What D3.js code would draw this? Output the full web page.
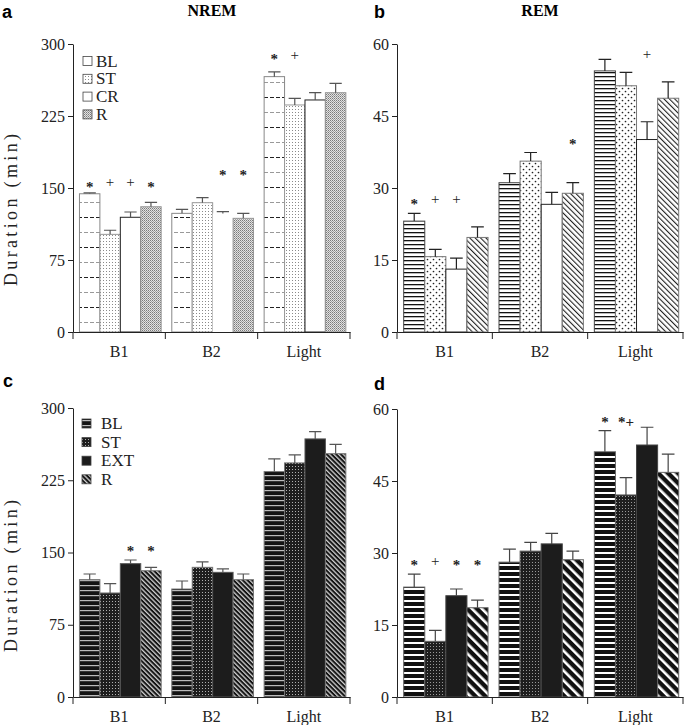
<!DOCTYPE html>
<html>
<head>
<meta charset="utf-8">
<script src="https://cdn.jsdelivr.net/npm/d3@7/dist/d3.min.js"></script>
<style>
  body { margin: 0; background: #fff; }
  svg { display: block; }
  text { font-family: "Liberation Serif", "Times New Roman", serif; }
  text.sans { font-family: "Liberation Sans", Arial, sans-serif; }
</style>
</head>
<body>
<svg id="chart" width="685" height="725"></svg>
<script>
const categories = ["B1", "B2", "Light"];
const groupsTop = ["BL", "ST", "CR", "R"];
const groupsBottom = ["BL", "ST", "EXT", "R"];
const yTicksNrem = [0, 75, 150, 225, 300];
const yTicksRem = [0, 15, 30, 45, 60];

// rows = categories, columns = groups
const nremTop = [[144, 101.7, 119.5, 130.5], [123.6, 134.7, 123.5, 118.4], [266, 236.5, 241.7, 249.3]];
const nremTopErr = [[1, 4.3, 5.5, 4.5], [4.2, 5.2, 1.8, 5.2], [5, 6.9, 7.6, 9.7]];
const remTop = [[23.1, 15.7, 13.1, 19.7], [31.1, 35.6, 26.6, 28.9], [54.4, 51.3, 40.1, 48.7]];
const remTopErr = [[1.6, 1.5, 2.3, 2.2], [1.9, 1.8, 2.5, 2.2], [2.4, 2.8, 3.7, 3.4]];
const nremBottom = [[121.8, 108, 138.4, 131.1], [112.1, 134.6, 129.4, 121.8], [234, 243, 267.9, 252.6]];
const nremBottomErr = [[5.9, 9.6, 3.8, 3.5], [8.3, 5.6, 3.5, 5.9], [13.1, 8.3, 7.6, 9.7]];
const remBottom = [[22.9, 11.6, 21.1, 18.6], [28.1, 30.4, 31.9, 28.6], [51.1, 42.1, 52.5, 46.8]];
const remBottomErr = [[2.7, 2.3, 1.4, 1.6], [2.7, 1.8, 2.2, 1.8], [4.4, 3.6, 3.7, 3.8]];

// significance marks: [category, group, symbol, height in data units]
const marksA = [["B1", "BL", "*", 155], ["B1", "ST", "+", 155], ["B1", "CR", "+", 155], ["B1", "R", "*", 155],
                ["B2", "CR", "*", 167], ["B2", "R", "*", 167], ["Light", "BL", "*", 288], ["Light", "ST", "+", 288]];
const marksB = [["B1", "BL", "*", 27.5], ["B1", "ST", "+", 27.5], ["B1", "CR", "+", 27.5],
                ["B2", "R", "*", 40], ["Light", "CR", "+", 57.7]];
const marksC = [["B1", "EXT", "*", 155], ["B1", "R", "*", 155]];
const marksD = [["B1", "BL", "*", 28.2], ["B1", "ST", "+", 28.2], ["B1", "EXT", "*", 28.2], ["B1", "R", "*", 28.2],
                ["Light", "BL", "*", 58.1], ["Light", "ST", "*+", 58.1]];

// bars whose outline does not show in the original
const noOutlineA = [["B2", "CR"]];

const serif = "'Liberation Serif', 'Times New Roman', serif";
const svg = d3.select("#chart");
const defs = svg.append("defs");

// --- fill patterns ---
const makePattern = (id, w, h, bg, transform) => {
  const p = defs.append("pattern")
    .attr("id", id)
    .attr("patternUnits", "userSpaceOnUse")
    .attr("width", w).attr("height", h);
  if (transform) p.attr("patternTransform", transform);
  p.append("rect").attr("width", w).attr("height", h).attr("fill", bg);
  return p;
};
const dots = (p, pts, fill, size) => pts.forEach(([x, y]) =>
  p.append("rect").attr("x", x).attr("y", y).attr("width", size).attr("height", size).attr("fill", fill));
const stripes = (id, period, lineW, fg, bg) => {
  const p = makePattern(id, period, period, bg, "rotate(-45)");
  p.append("rect").attr("width", lineW).attr("height", period).attr("fill", fg);
};

let p = makePattern("aBL", 6, 30, "#fff");
p.append("rect").attr("y", 7).attr("width", 4).attr("height", 1).attr("fill", "#222");
p.append("rect").attr("y", 22).attr("width", 4).attr("height", 1).attr("fill", "#999");
p = makePattern("aST", 3, 3, "#fff");
dots(p, [[1, 1]], "#8a8a8a", 1);
p = makePattern("aR", 2, 2, "#e2e2e2");
dots(p, [[0, 0]], "#7a7a7a", 1);
dots(p, [[1, 1]], "#a0a0a0", 1);

p = makePattern("bBL", 4, 4, "#fff");
p.append("rect").attr("width", 4).attr("height", 1.3).attr("fill", "#111");
p = makePattern("bST", 6, 6, "#fff");
p.append("circle").attr("cx", 1.5).attr("cy", 1.5).attr("r", 0.85).attr("fill", "#222");
p.append("circle").attr("cx", 4.5).attr("cy", 4.5).attr("r", 0.85).attr("fill", "#222");
stripes("bR", 3.8, 1.1, "#222", "#fff");

p = makePattern("cBL", 5, 5, "#141414");
p.append("rect").attr("width", 5).attr("height", 1.2).attr("fill", "#bbb");
p = makePattern("cST", 3, 3, "#1e1e1e");
dots(p, [[1, 1]], "#b0b0b0", 1);
stripes("cR", 3.3, 1.3, "#d0d0d0", "#141414");

p = makePattern("dBL", 6, 6, "#111");
p.append("rect").attr("width", 6).attr("height", 2).attr("fill", "#fff");
p = makePattern("dST", 3, 3, "#1e1e1e");
dots(p, [[1, 1]], "#999", 1);
stripes("dR", 7, 2.6, "#fff", "#111");

const panels = [
  { letter: "a", letterX: 2, letterY: 18, title: "NREM", titleX: 212, titleY: 16,
    groups: groupsTop, means: nremTop, errs: nremTopErr, marks: marksA, noOutline: noOutlineA,
    ymax: 300, ticks: yTicksNrem, left: 73, right: 350, top: 44, bottom: 332,
    fills: ["url(#aBL)", "url(#aST)", "#fff", "url(#aR)"],
    strokes: ["#888", "#999", "#222", "#999"], errColor: "#555",
    yTitle: { x: 17, y: 210 }, legend: { x: 83, y: 61, dy: 17.8, tx: 96 } },
  { letter: "b", letterX: 374, letterY: 18, title: "REM", titleX: 540, titleY: 16,
    groups: groupsTop, means: remTop, errs: remTopErr, marks: marksB, noOutline: [],
    ymax: 60, ticks: yTicksRem, left: 397, right: 683, top: 44, bottom: 332,
    fills: ["url(#bBL)", "url(#bST)", "#fff", "url(#bR)"],
    strokes: ["#444", "#777", "#222", "#777"], errColor: "#222" },
  { letter: "c", letterX: 3, letterY: 387,
    groups: groupsBottom, means: nremBottom, errs: nremBottomErr, marks: marksC, noOutline: [],
    ymax: 300, ticks: yTicksNrem, left: 73, right: 350, top: 408, bottom: 697,
    fills: ["url(#cBL)", "url(#cST)", "#1c1c1c", "url(#cR)"],
    strokes: ["#777", "#777", "#555", "#777"], errColor: "#555",
    yTitle: { x: 17, y: 576 }, legend: { x: 82, y: 423.5, dy: 18.6, tx: 101 } },
  { letter: "d", letterX: 374, letterY: 390,
    groups: groupsBottom, means: remBottom, errs: remBottomErr, marks: marksD, noOutline: [],
    ymax: 60, ticks: yTicksRem, left: 397, right: 683, top: 409, bottom: 697,
    fills: ["url(#dBL)", "url(#dST)", "#1c1c1c", "url(#dR)"],
    strokes: ["#666", "#666", "#444", "#666"], errColor: "#444" }
];

panels.forEach(cfg => {
  const g = svg.append("g");

  const x0 = d3.scaleBand().domain(categories).range([cfg.left, cfg.right]);
  const bw = x0.bandwidth();
  const x1 = d3.scaleBand().domain(cfg.groups).range([bw * 0.07, bw * 0.955]);
  const y = d3.scaleLinear().domain([0, cfg.ymax]).range([cfg.bottom, cfg.top]);

  // bars
  categories.forEach((cat, ci) => {
    cfg.groups.forEach((grp, gi) => {
      const hide = cfg.noOutline.some(([c, s]) => c === cat && s === grp);
      g.append("rect")
        .attr("x", x0(cat) + x1(grp))
        .attr("y", y(cfg.means[ci][gi]))
        .attr("width", x1.bandwidth())
        .attr("height", y(0) - y(cfg.means[ci][gi]))
        .attr("fill", cfg.fills[gi])
        .attr("stroke", hide ? "none" : cfg.strokes[gi])
        .attr("stroke-width", 1);
    });
  });

  // error bars (upper whisker only)
  categories.forEach((cat, ci) => {
    cfg.groups.forEach((grp, gi) => {
      const cx = x0(cat) + x1(grp) + x1.bandwidth() / 2;
      const top = y(cfg.means[ci][gi] + cfg.errs[ci][gi]);
      const capW = x1.bandwidth() * 0.3;
      g.append("path")
        .attr("d", `M${cx},${y(cfg.means[ci][gi])}V${top}M${cx - capW},${top}H${cx + capW}`)
        .attr("fill", "none")
        .attr("stroke", cfg.errColor)
        .attr("stroke-width", 1.2);
    });
  });

  // significance marks
  cfg.marks.forEach(([cat, grp, sym, v]) => {
    const cx = x0(cat) + x1(grp) + x1.bandwidth() / 2;
    g.append("text")
      .attr("x", cx)
      .attr("y", y(v) + (sym.includes("*") ? 8.5 : 4))
      .attr("text-anchor", "middle")
      .attr("font-size", 15)
      .attr("font-weight", sym.includes("*") ? "bold" : "normal")
      .attr("fill", "#222")
      .style("font-family", serif)
      .text(sym);
  });

  // y axis
  const yAxis = g.append("g")
    .attr("transform", `translate(${cfg.left},0)`)
    .call(d3.axisLeft(y).tickValues(cfg.ticks).tickSize(5).tickSizeOuter(0).tickPadding(3));
  yAxis.selectAll("text").attr("font-size", 16).style("font-family", serif).attr("fill", "#222");
  yAxis.select(".domain").attr("stroke", "#222");
  yAxis.selectAll(".tick line").attr("stroke", "#222");

  // x axis: category labels at centres, ticks at band edges
  const xAxis = g.append("g")
    .attr("transform", `translate(0,${cfg.bottom})`)
    .call(d3.axisBottom(x0).tickSize(0).tickPadding(14));
  xAxis.select(".domain").attr("stroke", "#222");
  xAxis.selectAll("text").attr("font-size", 16).style("font-family", serif).attr("fill", "#222");
  const edges = [cfg.left, ...categories.map(c => x0(c) + bw)];
  xAxis.selectAll(".edge")
    .data(edges)
    .join("line")
    .attr("class", "edge")
    .attr("x1", d => d).attr("x2", d => d)
    .attr("y1", 0).attr("y2", 7)
    .attr("stroke", "#222");

  // panel letter and title
  svg.append("text")
    .attr("class", "sans")
    .attr("x", cfg.letterX).attr("y", cfg.letterY)
    .attr("font-weight", "bold").attr("font-size", 18)
    .text(cfg.letter);
  if (cfg.title) {
    svg.append("text")
      .attr("x", cfg.titleX).attr("y", cfg.titleY)
      .attr("text-anchor", "middle")
      .attr("font-weight", "bold").attr("font-size", 16)
      .style("font-family", serif)
      .text(cfg.title);
  }

  // y title
  if (cfg.yTitle) {
    svg.append("text")
      .attr("transform", `translate(${cfg.yTitle.x},${cfg.yTitle.y}) rotate(-90)`)
      .attr("text-anchor", "middle")
      .attr("font-size", 18)
      .attr("textLength", 152)
      .attr("lengthAdjust", "spacing")
      .attr("fill", "#222")
      .style("font-family", serif)
      .text("Duration (min)");
  }

  // legend
  if (cfg.legend) {
    const L = cfg.legend;
    cfg.groups.forEach((grp, gi) => {
      const cy = L.y + gi * L.dy;
      svg.append("rect")
        .attr("x", L.x).attr("y", cy - 4.5)
        .attr("width", 9).attr("height", 9)
        .attr("fill", cfg.fills[gi])
        .attr("stroke", "#444").attr("stroke-width", 0.8);
      svg.append("text")
        .attr("x", L.tx).attr("y", cy + 5.5)
        .attr("font-size", 17)
        .attr("fill", "#222")
        .style("font-family", serif)
        .text(grp);
    });
  }
});
</script>
</body>
</html>
